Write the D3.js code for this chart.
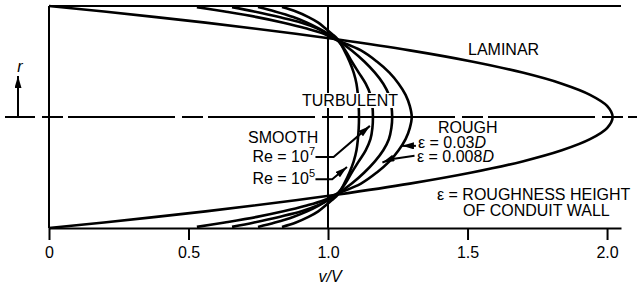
<!DOCTYPE html>
<html>
<head>
<meta charset="utf-8">
<script src="https://cdn.jsdelivr.net/npm/d3@7"></script>
<style>
    body { margin: 0; background: #fff; }
    svg { display: block; font-family: "Liberation Sans", Arial, sans-serif; }
</style>
</head>
<body>
<div id="chart"></div>
<script>
// r/R sample points (upper half, pipe is symmetric)
const radius = [0.99, 0.95, 0.9, 0.85, 0.8, 0.75, 0.7, 0.6, 0.5, 0.4, 0.3, 0.2, 0.1, 0];

// turbulent profiles, v/V at each radius
const rough003 = [0.53, 0.63, 0.745, 0.84, 0.92, 0.985, 1.025, 1.118, 1.175, 1.22, 1.253, 1.278, 1.293, 1.30];
const rough0008 = [0.656, 0.735, 0.825, 0.905, 0.96, 0.998, 1.03, 1.085, 1.13, 1.168, 1.198, 1.218, 1.227, 1.23];
const smooth7 = [0.749, 0.81, 0.875, 0.925, 0.965, 1.0, 1.03, 1.062, 1.085, 1.11, 1.135, 1.152, 1.159, 1.161];
const smooth5 = [0.835, 0.885, 0.93, 0.965, 0.99, 1.013, 1.035, 1.058, 1.077, 1.092, 1.102, 1.107, 1.11, 1.111];

// laminar profile
const lamRadius = [1.0, 0.95, 0.9, 0.85, 0.8, 0.75, 0.7, 0.6, 0.5, 0.4, 0.3, 0.2, 0.1, 0];
const laminar = [0, 0.197, 0.384, 0.561, 0.727, 0.884, 1.03, 1.293, 1.515, 1.697, 1.838, 1.939, 2.0, 2.02];

const xTicks = [0, 0.5, 1.0, 1.5, 2.0];
const xTickLabels = ["0", "0.5", "1.0", "1.5", "2.0"];

// leader lines [v/V, r/R], last point is the arrow tip
const leaders = [
    [[0.955, -0.36], [1.02, -0.36], [1.15, -0.08]],
    [[0.955, -0.56], [1.015, -0.56], [1.068, -0.45]],
    [[1.315, -0.26], [1.265, -0.26]],
    [[1.31, -0.35], [1.225, -0.38], [1.195, -0.41]]
];

class ProfileChart {
    constructor(_config) {
        this.config = {
            parentElement: _config.parentElement,
            width: 637,
            height: 289,
            fontSize: 16
        };
        this.initVis();
    }

    initVis() {
        const vis = this;

        vis.svg = d3.select(vis.config.parentElement)
            .append("svg")
            .attr("width", vis.config.width)
            .attr("height", vis.config.height);

        vis.xScale = d3.scaleLinear().domain([0, 2.05]).range([49, 621]);
        vis.yScale = d3.scaleLinear().domain([-1, 1]).range([228, 6]);

        vis.svg.append("defs").append("marker")
            .attr("id", "head")
            .attr("viewBox", "0 0 12 7")
            .attr("refX", 12)
            .attr("refY", 3.5)
            .attr("markerWidth", 12)
            .attr("markerHeight", 7)
            .attr("markerUnits", "userSpaceOnUse")
            .attr("orient", "auto")
            .append("path")
            .attr("d", "M0,0 L12,3.5 L0,7 Z")
            .attr("fill", "#000");

        vis.updateVis();
    }

    updateVis() {
        const vis = this;
        const x = vis.xScale, y = vis.yScale;
        const fs = vis.config.fontSize;

        // frame
        vis.svg.append("line")
            .attr("x1", x(0)).attr("x2", x(2.05))
            .attr("y1", y(1)).attr("y2", y(1))
            .attr("stroke", "#000").attr("stroke-width", 2);
        vis.svg.append("line")
            .attr("x1", x(0)).attr("x2", x(0))
            .attr("y1", y(1)).attr("y2", y(-1))
            .attr("stroke", "#000").attr("stroke-width", 2);
        vis.svg.append("line")
            .attr("x1", x(1)).attr("x2", x(1))
            .attr("y1", y(1)).attr("y2", y(-1))
            .attr("stroke", "#000").attr("stroke-width", 2);

        // centre line
        vis.svg.append("line")
            .attr("x1", 5).attr("x2", 637)
            .attr("y1", y(0)).attr("y2", y(0))
            .attr("stroke", "#000").attr("stroke-width", 2)
            .attr("stroke-dasharray", "107,7,21,5")
            .attr("stroke-dashoffset", 77);

        // x axis
        const xAxis = vis.svg.append("g")
            .attr("transform", `translate(0, ${y(-1)})`)
            .call(d3.axisBottom(x)
                .tickValues(xTicks)
                .tickFormat((d, i) => xTickLabels[i])
                .tickSize(12)
                .tickSizeOuter(0)
                .tickPadding(7));
        xAxis.select(".domain").attr("stroke-width", 2);
        xAxis.selectAll(".tick line").attr("stroke-width", 2);
        xAxis.selectAll(".tick text")
            .attr("font-size", fs)
            .attr("font-family", "Liberation Sans, Arial, sans-serif");

        vis.svg.append("text")
            .attr("x", 330).attr("y", 282)
            .attr("text-anchor", "middle")
            .attr("font-size", fs)
            .attr("font-style", "italic")
            .text("v/V");

        // r arrow
        vis.svg.append("line")
            .attr("x1", 18).attr("x2", 18)
            .attr("y1", y(0)).attr("y2", 76)
            .attr("stroke", "#000").attr("stroke-width", 2)
            .attr("marker-end", "url(#head)");
        vis.svg.append("text")
            .attr("x", 20).attr("y", 72)
            .attr("text-anchor", "middle")
            .attr("font-size", fs)
            .attr("font-style", "italic")
            .text("r");

        // profiles
        const line = d3.line()
            .x(d => x(d[0]))
            .y(d => y(d[1]))
            .curve(d3.curveCatmullRom.alpha(0.5));

        const profile = (vals, rs) => {
            const upper = rs.map((r, i) => [vals[i], r]);
            const lower = rs.slice(0, -1).reverse().map((r, i, a) => [vals[a.length - 1 - i], -r]);
            return upper.concat(lower);
        };

        const profiles = [
            profile(laminar, lamRadius),
            profile(rough003, radius),
            profile(rough0008, radius),
            profile(smooth7, radius),
            profile(smooth5, radius)
        ];

        vis.svg.selectAll(".profile")
            .data(profiles)
            .enter()
            .append("path")
            .attr("class", "profile")
            .attr("d", line)
            .attr("fill", "none")
            .attr("stroke", "#000")
            .attr("stroke-width", 2.6);

        // leaders
        vis.svg.selectAll(".leader")
            .data(leaders)
            .enter()
            .append("path")
            .attr("class", "leader")
            .attr("d", d3.line().x(d => x(d[0])).y(d => y(d[1])))
            .attr("fill", "none")
            .attr("stroke", "#000")
            .attr("stroke-width", 2)
            .attr("marker-end", "url(#head)");

        // labels
        const label = (tx, ty, txt, anchor) => vis.svg.append("text")
            .attr("x", tx).attr("y", ty)
            .attr("font-size", fs)
            .attr("text-anchor", anchor || "start")
            .text(txt);

        // white knock-out behind TURBULENT
        vis.svg.append("rect")
            .attr("x", 300).attr("y", 93)
            .attr("width", 96).attr("height", 15)
            .attr("fill", "#fff");

        label(468, 55, "LAMINAR");
        label(302, 106, "TURBULENT");
        label(248, 143, "SMOOTH");
        label(438, 133, "ROUGH");
        label(437, 200, "ε = ROUGHNESS HEIGHT");
        label(463, 216, "OF CONDUIT WALL");

        const withSup = (tx, ty, base, sup) => {
            const t = label(tx, ty, base, "end");
            t.append("tspan").attr("dy", -7).attr("font-size", 11).text(sup);
        };
        withSup(315, 162, "Re = 10", "7");
        withSup(315, 184, "Re = 10", "5");

        const withItalic = (tx, ty, base, it) => {
            const t = label(tx, ty, base);
            t.append("tspan").attr("font-style", "italic").text(it);
        };
        withItalic(418, 148, "ε = 0.03", "D");
        withItalic(417, 162, "ε = 0.008", "D");
    }
}

const chart = new ProfileChart({ parentElement: "#chart" });
</script>
</body>
</html>
